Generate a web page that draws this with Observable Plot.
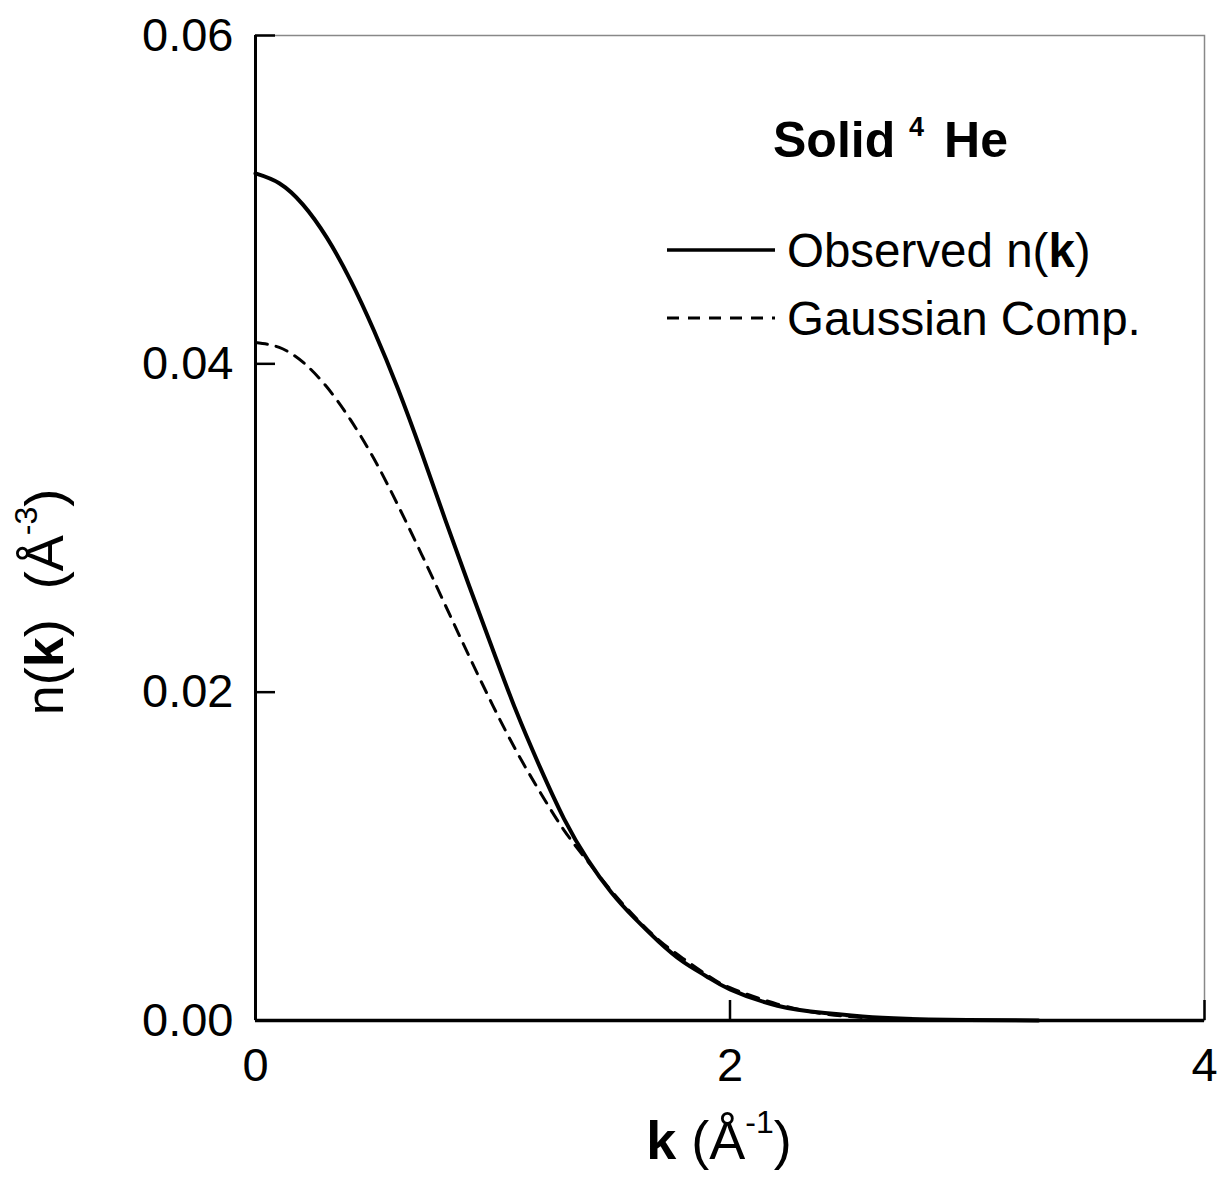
<!DOCTYPE html>
<html>
<head>
<meta charset="utf-8">
<script src="https://cdn.jsdelivr.net/npm/d3@7"></script>
<script src="https://cdn.jsdelivr.net/npm/@observablehq/plot@0.6"></script>
<style>
  html, body { margin: 0; padding: 0; background: #fff; }
  #chart svg { display: block; }
</style>
</head>
<body>
<div id="chart"></div>
<script>
// k values (Å^-1)
const kObserved = [0, 0.1, 0.2, 0.3, 0.4, 0.5, 0.6, 0.7, 0.8, 0.9, 1.0, 1.1, 1.2, 1.3, 1.4, 1.5, 1.6, 1.7, 1.8, 1.9, 2.0, 2.2, 2.4, 2.6, 2.8, 3.0, 3.3];
const nObserved = [0.0516, 0.0510, 0.0497, 0.0477, 0.0451, 0.0420, 0.0385, 0.0346, 0.0305, 0.0265, 0.0226, 0.0188, 0.0154, 0.0123, 0.0098, 0.0078, 0.0062, 0.0048, 0.0036, 0.0027, 0.0019, 0.0009, 0.00045, 0.0002, 0.00008, 0.00003, 0.0];
const kGaussian = [0, 0.1, 0.2, 0.3, 0.4, 0.5, 0.6, 0.7, 0.8, 0.9, 1.0, 1.1, 1.2, 1.3, 1.4, 1.5, 1.6, 1.7, 1.8, 1.9, 2.0, 2.2, 2.4, 2.6, 2.8, 3.0];
const nGaussian = [0.0413, 0.0410, 0.0401, 0.0386, 0.0366, 0.0342, 0.0314, 0.0284, 0.0253, 0.0222, 0.0192, 0.0164, 0.0139, 0.0116, 0.0097, 0.0079, 0.0063, 0.0049, 0.0038, 0.0028, 0.0020, 0.0010, 0.0004, 0.00015, 0.00005, 0.0];
const xTicks = [0, 2, 4];
const yTicks = [0, 0.02, 0.04, 0.06];

const observed = kObserved.map((k, i) => ({k, n: nObserved[i]}));
const gaussian = kGaussian.map((k, i) => ({k, n: nGaussian[i]}));

const W = 1226, H = 1194;
const mL = 255, mR = 22, mT = 35, mB = 174;
const fw = W - mL - mR, fh = H - mT - mB;
const font = "'Liberation Sans', Arial, Helvetica, sans-serif";

const plot = Plot.plot({
  width: W, height: H,
  marginLeft: mL, marginRight: mR, marginTop: mT, marginBottom: mB,
  style: {fontFamily: font, background: "#fff", color: "#000"},
  x: {domain: [0, 4]},
  y: {domain: [0, 0.06]},
  marks: [
    Plot.frame({stroke: "#888", strokeWidth: 1.5}),
    Plot.tickX(xTicks, {x: d => d, insetTop: fh - 20, stroke: "#000", strokeWidth: 2.5}),
    Plot.tickY(yTicks, {y: d => d, insetRight: fw - 20, stroke: "#000", strokeWidth: 2.5}),
    Plot.ruleX([0], {stroke: "#000", strokeWidth: 3}),
    Plot.ruleY([0], {stroke: "#000", strokeWidth: 3.5}),
    Plot.axisX({ticks: xTicks, tickSize: 0, tickPadding: 27, fontSize: 47, label: null, tickFormat: d => String(d)}),
    Plot.axisY({ticks: yTicks, tickSize: 0, tickPadding: 22, fontSize: 47, label: null, tickFormat: d3.format(".2f")}),
    Plot.line(gaussian, {x: "k", y: "n", curve: "natural", stroke: "#000", strokeWidth: 3, strokeDasharray: "12,9"}),
    Plot.line(observed, {x: "k", y: "n", curve: "natural", stroke: "#000", strokeWidth: 4})
  ]
});

document.getElementById("chart").appendChild(plot);

const svg = d3.select(plot);
const g = svg.append("g").attr("font-family", font).attr("fill", "#000").attr("text-anchor", "start");

// x-axis label: k (Å^-1)
const xl = g.append("text").attr("x", 719).attr("y", 1159).attr("text-anchor", "middle").attr("font-size", 54).style("white-space", "pre");
xl.append("tspan").attr("font-weight", "bold").text("k");
xl.append("tspan").text(" (Å");
xl.append("tspan").attr("font-size", 32).attr("dy", -26).text("-1");
xl.append("tspan").attr("dy", 26).text(")");

// y-axis label: n(k)  (Å^-3)
const yl = g.append("text").attr("transform", "translate(63,602) rotate(-90)").attr("text-anchor", "middle").attr("font-size", 54).style("white-space", "pre");
yl.append("tspan").text("n(");
yl.append("tspan").attr("font-weight", "bold").text("k");
yl.append("tspan").text(")  (Å");
yl.append("tspan").attr("font-size", 32).attr("dy", -26).text("-3");
yl.append("tspan").attr("dy", 26).text(")");

// Title: Solid ⁴He
const t = g.append("text").attr("x", 773).attr("y", 157).attr("text-anchor", "start").attr("font-size", 50).attr("font-weight", "bold").style("white-space", "pre");
t.append("tspan").text("Solid ");
t.append("tspan").attr("font-size", 27).attr("dy", -21).text("4");
t.append("tspan").attr("dy", 21).attr("dx", 6).text(" He");

// Legend
g.append("line").attr("x1", 667).attr("x2", 775).attr("y1", 250).attr("y2", 250).attr("stroke", "#000").attr("stroke-width", 3.5);
const l1 = g.append("text").attr("x", 787).attr("y", 267).attr("text-anchor", "start").attr("font-size", 47.5);
l1.append("tspan").text("Observed n(");
l1.append("tspan").attr("font-weight", "bold").text("k");
l1.append("tspan").text(")");

g.append("line").attr("x1", 667).attr("x2", 775).attr("y1", 318).attr("y2", 318).attr("stroke", "#000").attr("stroke-width", 3).attr("stroke-dasharray", "12,9");
g.append("text").attr("x", 787).attr("y", 335).attr("text-anchor", "start").attr("font-size", 47.5).text("Gaussian Comp.");
</script>
</body>
</html>
